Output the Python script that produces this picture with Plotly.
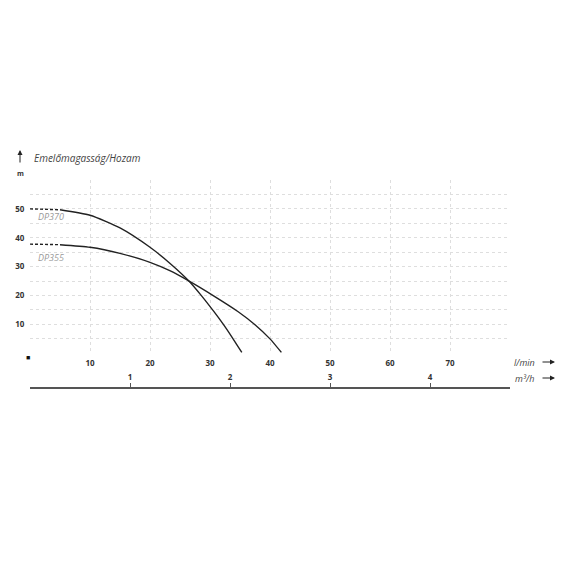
import plotly.graph_objects as go

# Data
dp370_dash_q = [0, 5]
dp370_dash_h = [50, 49.7]
dp370_q = [5, 10, 15, 20, 23.3, 26.6, 28.6, 30.6, 32.2, 33.6, 35.3]
dp370_h = [49.7, 47.8, 43.4, 36.7, 31.2, 24.8, 19.9, 14.6, 10.1, 5.8, 0.3]

dp355_dash_q = [0, 5]
dp355_dash_h = [37.8, 37.6]
dp355_q = [5, 10, 15, 20, 23.3, 26.6, 30.6, 34.7, 37.5, 40, 41.9]
dp355_h = [37.6, 36.7, 34.6, 31.5, 28.6, 24.9, 19.9, 14.4, 9.9, 5.0, 0.3]

x_grid_vals = [0, 10, 20, 30, 40, 50, 60, 70, 80]
x_tick_text = ["", "10", "20", "30", "40", "50", "60", "70", ""]
y_grid_vals = [0, 5, 10, 15, 20, 25, 30, 35, 40, 45, 50, 55, 60]
y_tick_text = ["", "", "10", "", "20", "", "30", "", "40", "", "50", "", ""]
m3h_vals = [1, 2, 3, 4]
m3h_text = ["1", "2", "3", "4"]
LPM_PER_M3H = 1000 / 60

line_col = "#222222"
fig = go.Figure()
for q, h in [(dp370_dash_q, dp370_dash_h), (dp355_dash_q, dp355_dash_h)]:
    fig.add_trace(go.Scatter(x=q, y=h, mode="lines",
                             line=dict(color=line_col, width=1.4, dash="3px,2px"),
                             showlegend=False, hoverinfo="skip"))
for q, h in [(dp370_q, dp370_h), (dp355_q, dp355_h)]:
    fig.add_trace(go.Scatter(x=q, y=h, mode="lines",
                             line=dict(color=line_col, width=1.4, shape="spline", smoothing=0.6),
                             showlegend=False, hoverinfo="skip"))
# dummy trace for second x-axis
fig.add_trace(go.Scatter(x=[0, 80], y=[0, 0], xaxis="x2", mode="lines",
                         line=dict(color="rgba(0,0,0,0)"), showlegend=False, hoverinfo="skip"))

top_px, bottom_px = 180, 400
ph = bottom_px - top_px
def py(yp):
    return (bottom_px - yp) / ph
def px(xp):
    return (xp - 30) / 480

grid = dict(showgrid=True, gridcolor="#dedede", griddash="dot", gridwidth=1)
tickfont = dict(family="Open Sans", size=8, color="#333333", weight="bold")

fig.update_layout(
    width=570, height=570,
    margin=dict(l=30, r=60, t=top_px, b=570 - bottom_px, autoexpand=False),
    paper_bgcolor="white", plot_bgcolor="white",
    xaxis=dict(range=[0, 80], tickvals=x_grid_vals, ticktext=x_tick_text,
               zeroline=False, showline=False, ticks="outside", ticklen=2,
               tickcolor="rgba(0,0,0,0)", tickfont=tickfont, anchor="y",
               automargin=False, **grid),
    yaxis=dict(range=[0, 60], tickvals=y_grid_vals, ticktext=y_tick_text,
               domain=[py(353.3), 1], zeroline=False, showline=False,
               ticks="outside", ticklen=3, tickcolor="rgba(0,0,0,0)",
               tickfont=tickfont, automargin=False, **grid),
    xaxis2=dict(range=[0, 80], overlaying="x", anchor="free", position=py(387.7),
                side="top", showline=True, linecolor="#555555", linewidth=2,
                ticks="outside", ticklen=4, tickcolor="#555555", tickwidth=1,
                tickvals=[v * LPM_PER_M3H for v in m3h_vals], ticktext=m3h_text,
                tickfont=tickfont, showgrid=False, zeroline=False, automargin=False),
)

ann_font = dict(family="Open Sans", size=10, color="#444444", style="italic")
fig.add_annotation(text="Emelőmagasság/Hozam", xref="paper", yref="paper",
                   x=px(32), y=py(158), xanchor="left", yanchor="middle",
                   showarrow=False, font=ann_font)
fig.add_annotation(text="m", xref="paper", yref="paper", x=px(20), y=py(173),
                   xanchor="center", yanchor="middle", showarrow=False,
                   font=dict(family="Open Sans", size=7, color="#333333", weight="bold"))
# up arrow
fig.add_annotation(text="", xref="paper", yref="paper", x=px(20), y=py(150),
                   ax=0, ay=14, showarrow=True, arrowhead=2, arrowsize=1,
                   arrowwidth=1, arrowcolor="#222222")
# series labels
lab_font = dict(family="Open Sans", size=9, color="#9a9a9a", style="italic")
fig.add_annotation(text="DP370", x=1, y=47.3, xanchor="left", yanchor="middle",
                   showarrow=False, font=lab_font)
fig.add_annotation(text="DP355", x=1, y=33.3, xanchor="left", yanchor="middle",
                   showarrow=False, font=lab_font)
# origin square
fig.add_annotation(text="■", x=0, y=0, xshift=-2, yshift=-4, showarrow=False,
                   font=dict(size=7, color="#111111"))
# unit labels with arrows
unit_font = dict(family="Open Sans", size=9, color="#444444", style="italic")
for label, ypx in [("l/min", 362), ("m³/h", 378)]:
    fig.add_annotation(text=label, xref="paper", yref="paper", x=px(524), y=py(ypx),
                       xanchor="center", yanchor="middle", showarrow=False, font=unit_font)
    fig.add_annotation(text="", xref="paper", yref="paper", x=px(555), y=py(ypx),
                       ax=-14, ay=0, showarrow=True, arrowhead=2, arrowsize=1,
                       arrowwidth=1, arrowcolor="#222222")

fig.write_html("out.html", config={"displayModeBar": False},
               post_script="document.body.style.margin='0px';")
